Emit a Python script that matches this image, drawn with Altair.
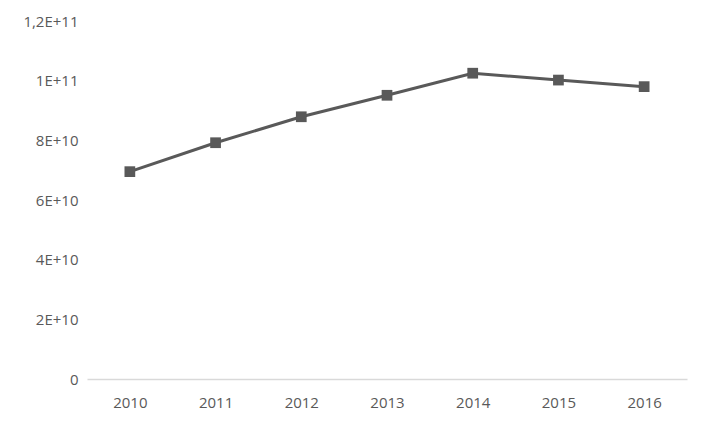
import altair as alt
import pandas as pd

years = ["2010", "2011", "2012", "2013", "2014", "2015", "2016"]
values = [6.95e10, 7.92e10, 8.79e10, 9.51e10, 1.025e11, 1.002e11, 9.80e10]

df = pd.DataFrame({"year": years, "value": values})

label_expr = ("datum.value == 0 ? '0' : "
              "replace(upper(format(datum.value, '.2~e')), '.', ',')")

base = alt.Chart(df).encode(
    x=alt.X("year:N", sort=years,
            scale=alt.Scale(paddingInner=1, paddingOuter=0.5),
            axis=alt.Axis(title=None, labelAngle=0, ticks=False, domain=True,
                          domainColor="#d9d9d9", domainWidth=1.5,
                          labelColor="#595959", labelFontSize=15,
                          labelFont="Open Sans", labelPadding=16, grid=False)),
    y=alt.Y("value:Q",
            scale=alt.Scale(domain=[0, 1.2e11], nice=False),
            axis=alt.Axis(title=None, values=[0, 2e10, 4e10, 6e10, 8e10, 1e11, 1.2e11],
                          labelExpr=label_expr, ticks=False, domain=False, grid=False,
                          labelColor="#595959", labelFontSize=15,
                          labelFont="Open Sans", labelPadding=9)),
)

line = base.mark_line(color="#595959", strokeWidth=3)
points = base.mark_point(shape="square", filled=True, size=115, color="#595959", opacity=1)

chart = (line + points).properties(
    width=600, height=358,
    padding={"left": 79, "top": 13, "right": 8, "bottom": 37},
    autosize=alt.AutoSizeParams(type="none"),
    background="white",
).configure_view(stroke=None)

chart.save("out.html", embed_options={"renderer": "svg", "actions": False})
